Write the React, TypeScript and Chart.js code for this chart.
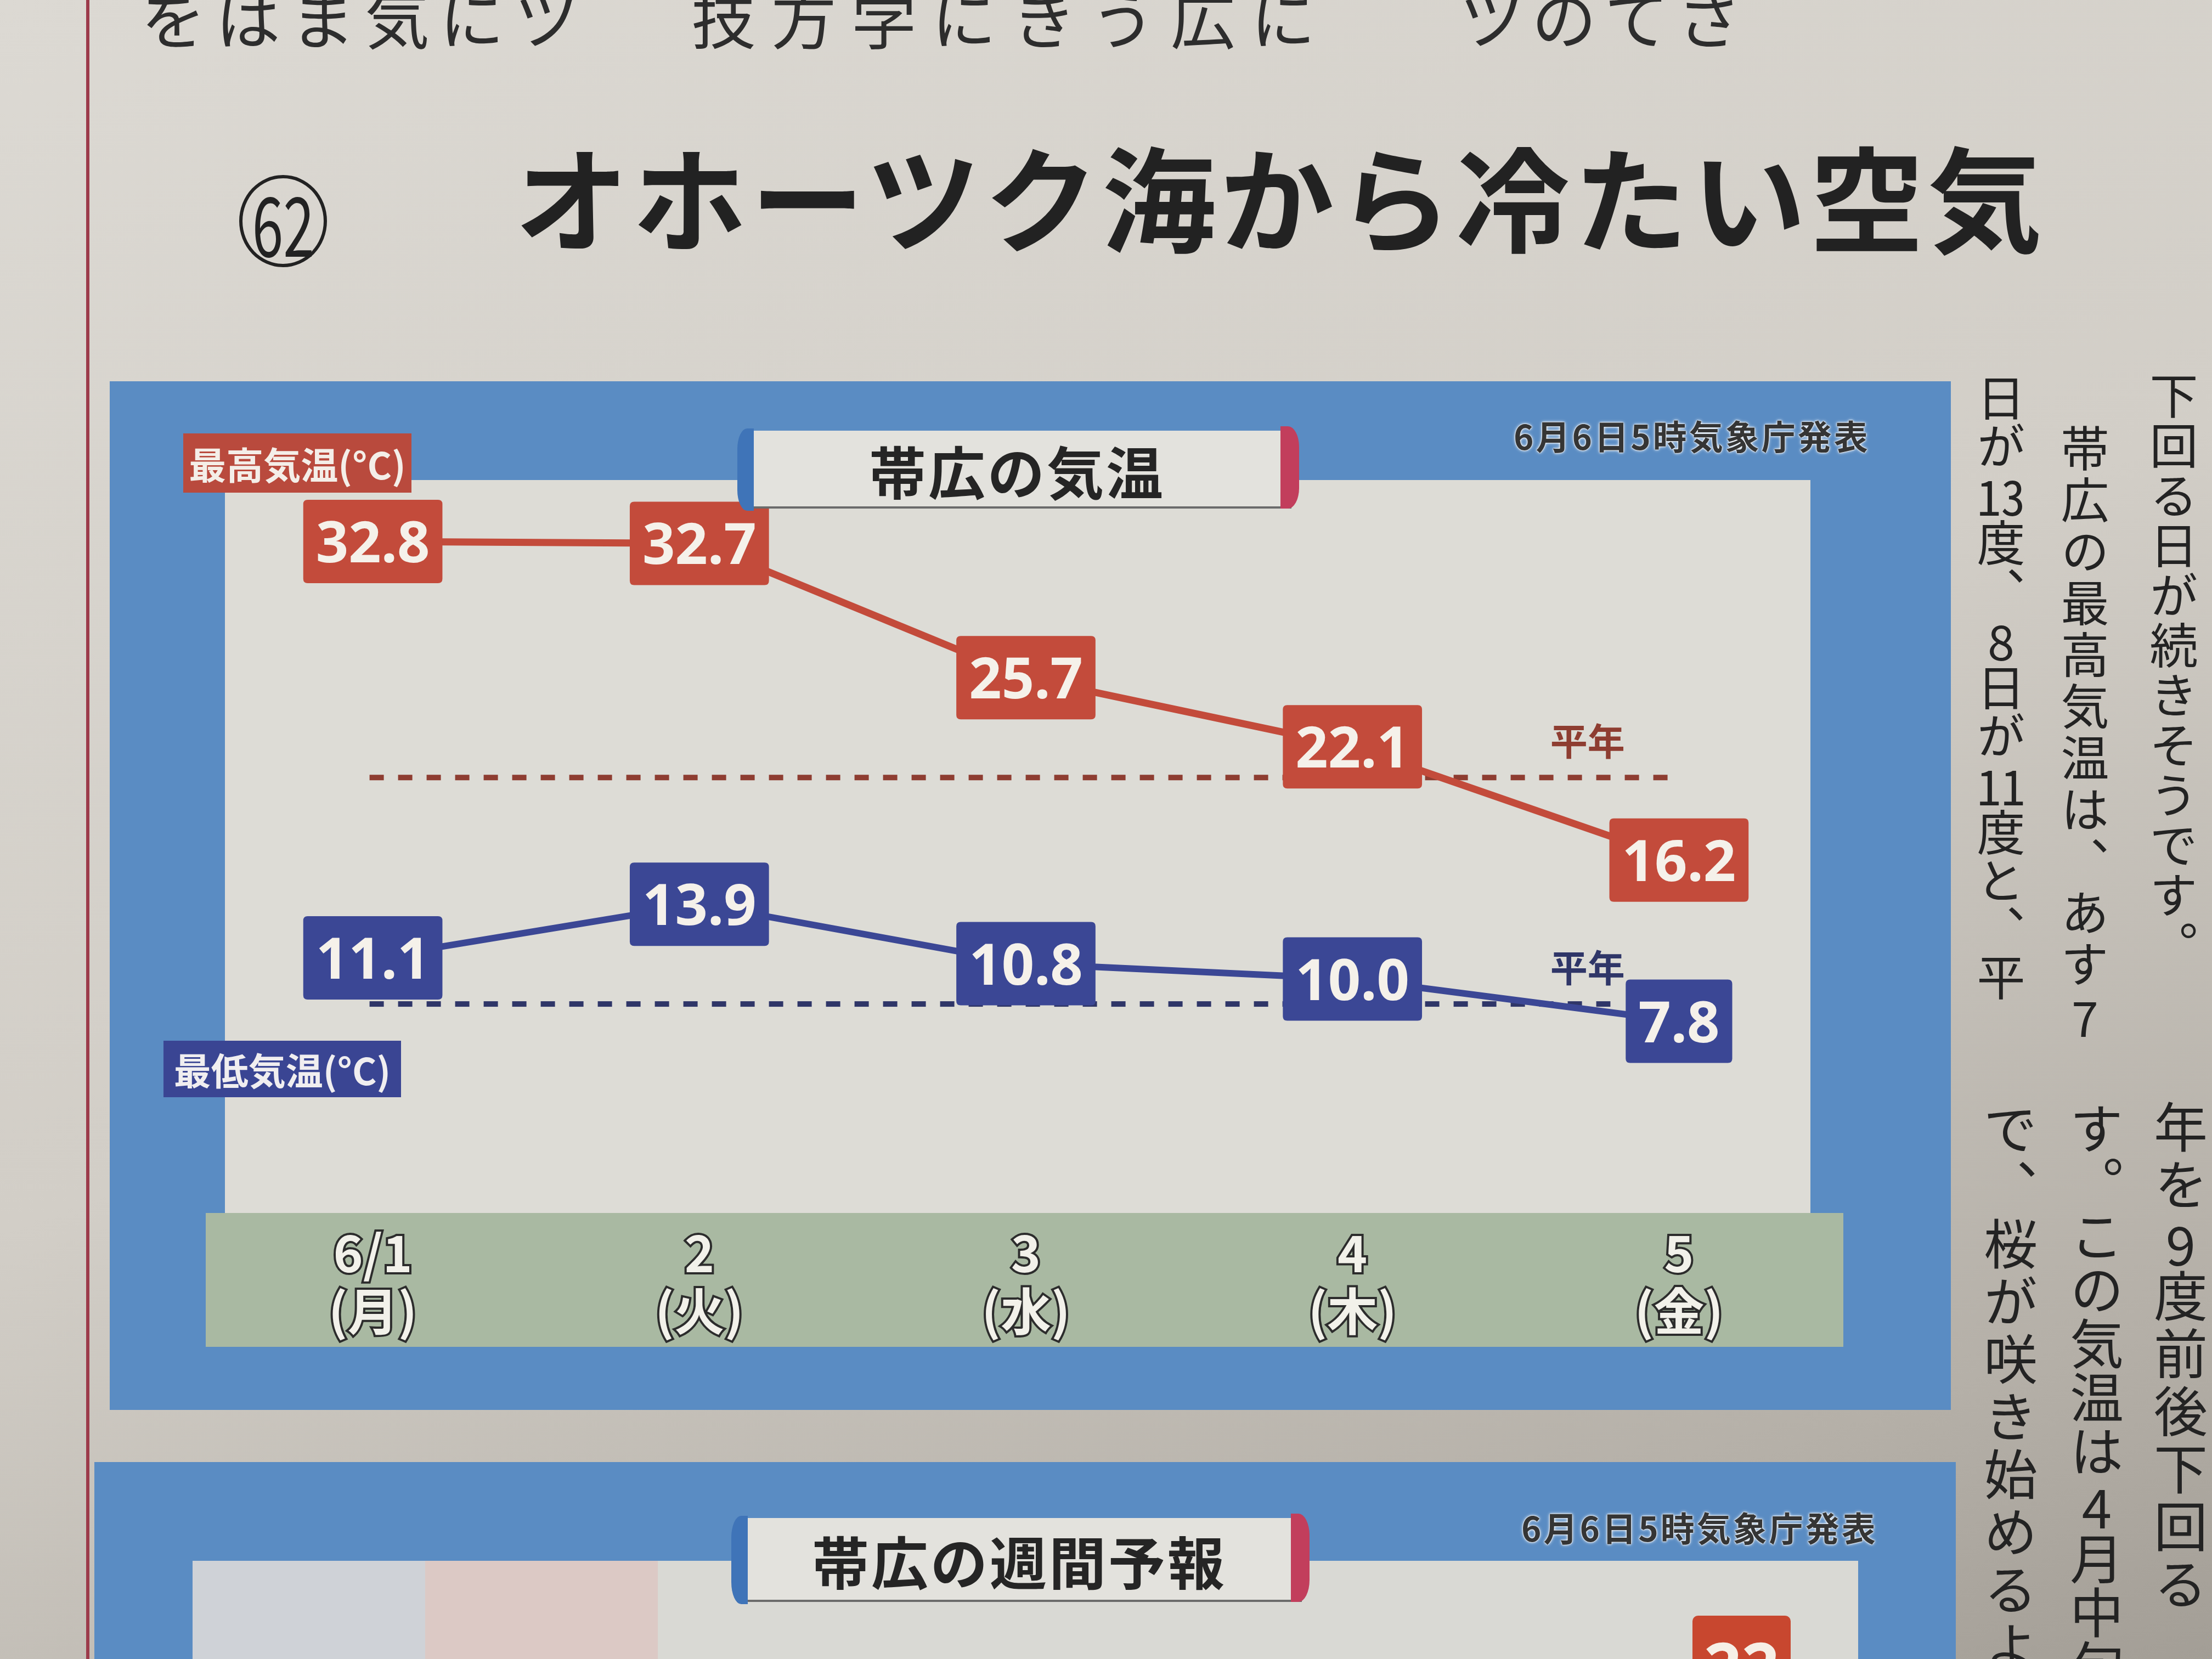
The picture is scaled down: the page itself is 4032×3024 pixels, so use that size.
import React, { useEffect, useRef } from 'react';
import { Chart, registerables } from 'chart.js';

Chart.register(...registerables);

// ---- data ----
const dayLabels = ['6/1', '2', '3', '4', '5'];
const weekdayLabels = ['(月)', '(火)', '(水)', '(木)', '(金)'];
const highTemps = [32.8, 32.7, 25.7, 22.1, 16.2];
const lowTemps = [11.1, 13.9, 10.8, 10.0, 7.8];
const normalHigh = 20.5;
const normalLow = 8.7;
const yMin = -2.2;
const yMax = 36;

// ---- styles ----
const RED = '#c34b3b';
const NAVY = '#3b4795';
const RED_DARK = '#8e3d31';
const NAVY_DARK = '#2f3668';
const FRAME = '#5a8cc3';
const INNER = '#dddcd6';
const GREEN = '#a9b9a2';
const JP = '"Noto Sans CJK JP", "Noto Sans", sans-serif';

function roundRect(ctx: CanvasRenderingContext2D, x: number, y: number, w: number, h: number, r: number) {
  ctx.beginPath();
  ctx.moveTo(x + r, y);
  ctx.lineTo(x + w - r, y);
  ctx.quadraticCurveTo(x + w, y, x + w, y + r);
  ctx.lineTo(x + w, y + h - r);
  ctx.quadraticCurveTo(x + w, y + h, x + w - r, y + h);
  ctx.lineTo(x + r, y + h);
  ctx.quadraticCurveTo(x, y + h, x, y + h - r);
  ctx.lineTo(x, y + r);
  ctx.quadraticCurveTo(x, y, x + r, y);
  ctx.closePath();
}

const overlayPlugin = {
  id: 'overlay',
  beforeDatasetsDraw(chart: any) {
    const { ctx, scales } = chart;
    const xs = scales.x;
    const ys = scales.y;
    const normals = [
      { v: normalHigh, end: 3.965, color: RED_DARK },
      { v: normalLow, end: 3.79, color: NAVY_DARK },
    ];
    normals.forEach((n) => {
      const yy = ys.getPixelForValue(n.v);
      ctx.save();
      ctx.strokeStyle = n.color;
      ctx.lineWidth = 10;
      ctx.setLineDash([26, 26]);
      ctx.beginPath();
      ctx.moveTo(xs.getPixelForValue(0) - 6, yy);
      ctx.lineTo(xs.getPixelForValue(n.end), yy);
      ctx.stroke();
      ctx.setLineDash([]);
      ctx.fillStyle = n.color;
      ctx.font = `bold 68px ${JP}`;
      ctx.textAlign = 'center';
      ctx.textBaseline = 'middle';
      ctx.fillText('平年', xs.getPixelForValue(3.72), yy - 66);
      ctx.restore();
    });
  },
  afterDatasetsDraw(chart: any) {
    const { ctx } = chart;
    const sets = [
      { idx: 0, values: highTemps, fill: RED },
      { idx: 1, values: lowTemps, fill: NAVY },
    ];
    ctx.save();
    ctx.font = `bold 104px "Noto Sans", "DejaVu Sans", sans-serif`;
    ctx.textAlign = 'center';
    ctx.textBaseline = 'alphabetic';
    sets.forEach((s) => {
      const meta = chart.getDatasetMeta(s.idx);
      meta.data.forEach((pt: any, i: number) => {
        const text = s.values[i].toFixed(1);
        const w = ctx.measureText(text).width + 46;
        const h = 152;
        ctx.fillStyle = s.fill;
        roundRect(ctx, pt.x - w / 2, pt.y - h / 2, w, h, 8);
        ctx.fill();
        ctx.fillStyle = '#f5f1ea';
        ctx.fillText(text, pt.x, pt.y + 38);
      });
    });
    ctx.restore();
  },
};

const abs = (left: number, top: number, width?: number, height?: number, extra: any = {}) => ({
  position: 'absolute' as const,
  left,
  top,
  width,
  height,
  ...extra,
});

const TCY = ({ t }: { t: string }) => <span style={{ textCombineUpright: 'all' } as any}>{t}</span>;

const vcol = (left: number, top: number, size: number, spacing: number) =>
  abs(left, top, undefined, undefined, {
    writingMode: 'vertical-rl',
    fontSize: size,
    lineHeight: 1,
    letterSpacing: spacing,
    whiteSpace: 'nowrap',
    color: '#232323',
    fontFamily: JP,
  });

function TitleBox({ left, top, width, height, text, size }: any) {
  return (
    <>
      <div style={abs(left, top, width, height, { background: '#e3e2dd', borderBottom: '4px solid #6b6b6b', boxSizing: 'border-box' })} />
      <div style={abs(left - 10, top - 4, 30, height + 8, { background: '#3f74b8', borderRadius: '60% 0 0 60% / 25% 0 0 25%' })} />
      <div style={abs(left + width - 20, top - 8, 34, height + 8, { background: '#c23e5c', borderRadius: '0 60% 60% 0 / 0 25% 25% 0' })} />
      <div
        style={abs(left, top, width, height, {
          display: 'flex',
          alignItems: 'center',
          justifyContent: 'center',
          fontFamily: JP,
          fontWeight: 700,
          fontSize: size,
          letterSpacing: 4,
          color: '#252525',
        })}
      >
        {text}
      </div>
    </>
  );
}

const dateStyle = (left: number, top: number) =>
  abs(left, top, undefined, undefined, {
    fontFamily: JP,
    fontWeight: 700,
    fontSize: 62,
    letterSpacing: 4,
    lineHeight: 1,
    color: '#353535',
    whiteSpace: 'nowrap',
    textShadow: '0 0 6px #fff, 0 0 3px #fff, 0 0 2px #fff',
  });

export default function App() {
  const canvasRef = useRef<HTMLCanvasElement>(null);

  useEffect(() => {
    document.body.style.margin = '0';
    document.body.style.overflow = 'hidden';
    const chart = new Chart(canvasRef.current as HTMLCanvasElement, {
      type: 'line',
      data: {
        labels: dayLabels.map((d, i) => [d, weekdayLabels[i]]),
        datasets: [
          { label: '最高気温(°C)', data: highTemps, borderColor: RED, borderWidth: 13, pointRadius: 0, tension: 0, fill: false },
          { label: '最低気温(°C)', data: lowTemps, borderColor: NAVY, borderWidth: 12, pointRadius: 0, tension: 0, fill: false },
        ],
      },
      options: {
        responsive: false,
        animation: false,
        devicePixelRatio: 1,
        layout: { padding: 0 },
        plugins: { legend: { display: false }, tooltip: { enabled: false } },
        scales: {
          x: {
            offset: true,
            grid: { display: false, drawTicks: false },
            border: { display: false },
            ticks: {
              autoSkip: false,
              maxRotation: 0,
              padding: 20,
              color: '#f2f1ea',
              textStrokeColor: '#2c2c2c',
              textStrokeWidth: 8,
              font: { family: JP, size: 92, weight: 'bold', lineHeight: 1.15 },
            },
          },
          y: { display: false, min: yMin, max: yMax },
        },
      } as any,
      plugins: [overlayPlugin],
    });
    return () => chart.destroy();
  }, []);

  return (
    <div
      style={abs(0, 0, 4032, 3024, {
        overflow: 'hidden',
        background: 'linear-gradient(160deg, #dcd9d3 0%, #d2cec7 50%, #b5b0a8 85%, #a39e96 100%)',
        fontFamily: JP,
      })}
    >
      {/* left margin rule */}
      <div style={abs(157, 0, 6, 3024, { background: '#9c3b4b' })} />

      {/* cut-off text at the top */}
      <div style={abs(257, -30, undefined, undefined, { fontSize: 118, lineHeight: 1, letterSpacing: 18, color: '#2d2d2d', whiteSpace: 'nowrap' })}>をはま気にツ</div>
      <div style={abs(1260, -30, undefined, undefined, { fontSize: 118, lineHeight: 1, letterSpacing: 28, color: '#2d2d2d', whiteSpace: 'nowrap' })}>技方学にきう広に</div>
      <div style={abs(2660, -30, undefined, undefined, { fontSize: 118, lineHeight: 1, letterSpacing: 14, color: '#2d2d2d', whiteSpace: 'nowrap' })}>ツのてさ</div>

      {/* headline */}
      <div
        style={abs(436, 319, 160, 168, {
          border: '6px solid #222',
          borderRadius: '50%',
          boxSizing: 'border-box',
          display: 'flex',
          alignItems: 'center',
          justifyContent: 'center',
        })}
      >
        <span style={{ fontSize: 150, lineHeight: 1, color: '#222', transform: 'scaleX(0.68)', display: 'inline-block', fontWeight: 400 }}>62</span>
      </div>
      <div style={abs(938, 250, undefined, undefined, { fontSize: 208, fontWeight: 700, lineHeight: 1, letterSpacing: 7, color: '#222', whiteSpace: 'nowrap' })}>
        オホーツク海から冷たい空気
      </div>

      {/* right-hand article columns */}
      <div style={vcol(3918, 677, 88, 3)}>下回る日が続きそうです。</div>
      <div style={vcol(3756, 773, 88, 6)}>
        帯広の最高気温は、あす<TCY t="7" />
      </div>
      <div style={vcol(3603, 681, 88, 0)}>
        日が<TCY t="13" />度、<TCY t="8" />日が<TCY t="11" />度と、平
      </div>
      <div style={vcol(3926, 2005, 98, 7)}>
        年を<TCY t="9" />度前後下回る
      </div>
      <div style={vcol(3773, 2008, 98, 0)}>
        す。この気温は<TCY t="4" />月中旬
      </div>
      <div style={vcol(3616, 2008, 98, 7)}>で、桜が咲き始めるより</div>

      {/* chart panel */}
      <div style={abs(200, 695, 3356, 1875, { background: FRAME })} />
      <div style={abs(410, 875, 2890, 1340, { background: INNER })} />
      <div style={abs(375, 2211, 2985, 244, { background: GREEN })} />

      <canvas
        ref={canvasRef}
        width={2976}
        height={1588}
        style={abs(382, 875, 2976, 1588)}
      />

      <TitleBox left={1354} top={785} width={1000} height={142} text="帯広の気温" size={104} />
      <div style={dateStyle(2759, 762)}>6月6日5時気象庁発表</div>

      <div
        style={abs(334, 790, 416, 108, {
          background: '#b94a3d',
          color: '#f4eee8',
          fontWeight: 700,
          fontSize: 68,
          display: 'flex',
          alignItems: 'center',
          justifyContent: 'center',
          whiteSpace: 'nowrap',
        })}
      >
        最高気温(°C)
      </div>
      <div
        style={abs(298, 1897, 433, 103, {
          background: '#3a4593',
          color: '#f0eef0',
          fontWeight: 700,
          fontSize: 68,
          display: 'flex',
          alignItems: 'center',
          justifyContent: 'center',
          whiteSpace: 'nowrap',
        })}
      >
        最低気温(°C)
      </div>

      {/* second (weekly forecast) panel, cut at the bottom */}
      <div style={abs(172, 2665, 3393, 420, { background: FRAME })} />
      <div style={abs(351, 2845, 3036, 300, { background: '#d9d9d4' })} />
      <div style={abs(351, 2845, 424, 300, { background: '#cfd2d7' })} />
      <div style={abs(775, 2845, 424, 300, { background: '#dcc9c5' })} />
      <TitleBox left={1343} top={2767} width={1030} height={153} text="帯広の週間予報" size={104} />
      <div style={dateStyle(2773, 2752)}>6月6日5時気象庁発表</div>
      <div style={abs(3085, 2945, 179, 200, { background: '#c8472f', borderRadius: 10, overflow: 'hidden' })}>
        <div style={{ color: '#f6efe6', fontWeight: 700, fontSize: 120, lineHeight: 1, textAlign: 'center', marginTop: 30, fontFamily: '"Noto Sans", sans-serif' }}>22</div>
      </div>
    </div>
  );
}
